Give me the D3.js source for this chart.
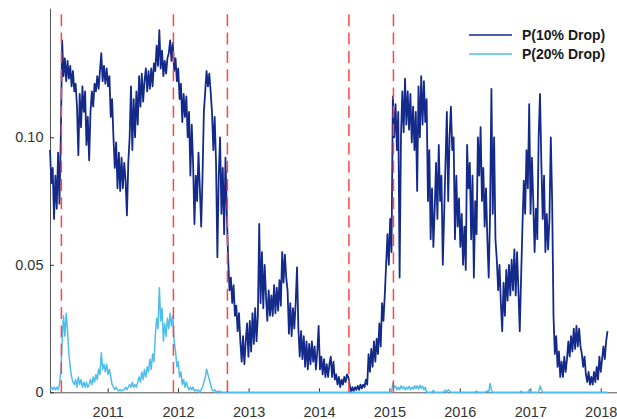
<!DOCTYPE html>
<html>
<head>
<meta charset="utf-8">
<script src="https://cdn.jsdelivr.net/npm/d3@7"></script>
<style>
  html, body { margin: 0; padding: 0; background: #fff; }
  svg { display: block; font-family: "Liberation Sans", Arial, Helvetica, sans-serif; }
</style>
</head>
<body>
<svg id="chart" width="617" height="419"></svg>
<script>
// Weekly observations, first Monday of the sample
const seriesStart = new Date(2010, 2, 8);

// Probability of a 10% drop (weekly)
const p10 = [
  0.095, 0.082, 0.088, 0.068, 0.085, 0.072, 0.094, 0.074, 0.1, 0.138,
  0.124, 0.131, 0.122, 0.13, 0.123, 0.128, 0.12, 0.126, 0.118, 0.121,
  0.112, 0.093, 0.117, 0.104, 0.12, 0.11, 0.118, 0.097, 0.108, 0.091,
  0.11, 0.118, 0.112, 0.121, 0.118, 0.124, 0.119, 0.126, 0.133, 0.122,
  0.128, 0.121, 0.127, 0.12, 0.124, 0.108, 0.115, 0.1, 0.088, 0.098,
  0.08, 0.094, 0.079, 0.092, 0.08, 0.09, 0.083, 0.0694, 0.09, 0.1,
  0.12, 0.095, 0.115, 0.1, 0.118, 0.105, 0.124, 0.112, 0.125, 0.114,
  0.122, 0.127, 0.118, 0.126, 0.119, 0.127, 0.12, 0.129, 0.126, 0.136,
  0.128, 0.142, 0.127, 0.134, 0.124, 0.13, 0.125, 0.131, 0.133, 0.138,
  0.13, 0.137, 0.126, 0.131, 0.122, 0.127, 0.115, 0.121, 0.106, 0.117,
  0.108, 0.116, 0.1, 0.11, 0.085, 0.105, 0.09, 0.066, 0.085, 0.075,
  0.094, 0.08, 0.065, 0.085, 0.11, 0.118, 0.126, 0.12, 0.125, 0.118,
  0.11, 0.095, 0.108, 0.09, 0.053, 0.085, 0.1, 0.07, 0.088, 0.062,
  0.092, 0.07, 0.052, 0.04, 0.045, 0.035, 0.042, 0.03, 0.034, 0.024,
  0.031, 0.02, 0.012, 0.022, 0.011, 0.02, 0.027, 0.014, 0.028, 0.016,
  0.031, 0.019, 0.033, 0.02, 0.03, 0.066, 0.035, 0.055, 0.033, 0.05,
  0.038, 0.028, 0.04, 0.03, 0.038, 0.03, 0.042, 0.031, 0.041, 0.032,
  0.044, 0.034, 0.055, 0.043, 0.054, 0.045, 0.04, 0.023, 0.035, 0.022,
  0.033, 0.025, 0.035, 0.049, 0.025, 0.014, 0.024, 0.013, 0.022, 0.01,
  0.02, 0.009, 0.019, 0.011, 0.02, 0.012, 0.018, 0.009, 0.016, 0.026,
  0.009, 0.014, 0.007, 0.013, 0.006, 0.011, 0.006, 0.011, 0.014, 0.006,
  0.012, 0.005, 0.007, 0.003, 0.006, 0.002, 0.005, 0.003, 0.006, 0.004,
  0.007, 0.006, 0.003, 0.0, 0.002, 0.0005, 0.002, 0.001, 0.0025, 0.001,
  0.003, 0.0015, 0.003, 0.002, 0.005, 0.003, 0.015, 0.008, 0.017, 0.01,
  0.02, 0.012, 0.021, 0.015, 0.027, 0.018, 0.035, 0.028, 0.038, 0.05,
  0.062, 0.05, 0.068, 0.055, 0.116, 0.1, 0.113, 0.095, 0.11, 0.045,
  0.1, 0.118, 0.102, 0.123, 0.105, 0.118, 0.103, 0.117, 0.098, 0.112,
  0.095, 0.11, 0.079, 0.12, 0.1, 0.124, 0.105, 0.122, 0.106, 0.115,
  0.075, 0.095, 0.06, 0.08, 0.057, 0.072, 0.09, 0.068, 0.097, 0.075,
  0.085, 0.05, 0.07, 0.09, 0.11, 0.075, 0.1, 0.112, 0.095, 0.1,
  0.06, 0.085, 0.065, 0.076, 0.057, 0.07, 0.05, 0.065, 0.048, 0.097,
  0.08, 0.09, 0.06, 0.085, 0.045, 0.075, 0.062, 0.1, 0.085, 0.104,
  0.075, 0.088, 0.065, 0.08, 0.06, 0.045, 0.07, 0.119, 0.07, 0.1,
  0.06, 0.052, 0.04, 0.05, 0.035, 0.024, 0.043, 0.03, 0.048, 0.036,
  0.05, 0.038, 0.052, 0.04, 0.056, 0.038, 0.055, 0.04, 0.024, 0.045,
  0.065, 0.083, 0.07, 0.095, 0.08, 0.113, 0.07, 0.092, 0.075, 0.055,
  0.072, 0.06, 0.1, 0.117, 0.09, 0.068, 0.085, 0.055, 0.07, 0.056,
  0.068, 0.1, 0.075, 0.03, 0.015, 0.022, 0.01, 0.016, 0.006, 0.012,
  0.006, 0.014, 0.008, 0.013, 0.02, 0.014, 0.022, 0.016, 0.025, 0.017,
  0.026, 0.018, 0.025, 0.018, 0.015, 0.01, 0.014, 0.007, 0.004, 0.008,
  0.003, 0.006, 0.003, 0.008, 0.004, 0.01, 0.005, 0.014, 0.008, 0.013,
  0.018, 0.013, 0.02, 0.024
];

// Probability of a 20% drop (weekly)
const p20 = [
  0.001, 0.002, 0.001, 0.002, 0.001, 0.002, 0.001, 0.003, 0.008, 0.02,
  0.03, 0.022, 0.031, 0.024, 0.015, 0.01, 0.006, 0.004, 0.003, 0.005,
  0.002, 0.006, 0.003, 0.005, 0.002, 0.004, 0.002, 0.004, 0.002, 0.003,
  0.005, 0.003, 0.006, 0.004, 0.007, 0.005, 0.009, 0.007, 0.0155, 0.009,
  0.011, 0.008, 0.011, 0.007, 0.009, 0.006, 0.003, 0.002, 0.001, 0.002,
  0.001, 0.0005, 0.001, 0.0005, 0.001, 0.001, 0.002, 0.001, 0.002, 0.003,
  0.002, 0.004, 0.002, 0.003, 0.002, 0.004, 0.006, 0.004, 0.008, 0.005,
  0.009, 0.006, 0.01, 0.008, 0.013, 0.009, 0.015, 0.012, 0.022, 0.029,
  0.025, 0.041, 0.028, 0.033, 0.02, 0.027, 0.022, 0.029, 0.025, 0.031,
  0.026, 0.03, 0.02, 0.016, 0.01, 0.012, 0.006, 0.008, 0.003, 0.005,
  0.002, 0.004, 0.002, 0.001, 0.002, 0.001, 0.002, 0.0005, 0.001, 0.0005,
  0.001, 0, 0.001, 0.002, 0.004, 0.006, 0.009, 0.007, 0.005, 0.003,
  0.001, 0.0005, 0.001, 0, 0.0005, 0, 0.0005, 0, 0, 0,
  0, 0, 0, 0, 0, 0, 0, 0, 0, 0,
  0, 0, 0, 0, 0, 0, 0, 0, 0, 0,
  0, 0, 0, 0, 0, 0, 0, 0, 0, 0,
  0, 0, 0, 0, 0, 0, 0, 0, 0, 0,
  0, 0, 0, 0, 0, 0, 0, 0, 0, 0,
  0, 0, 0, 0, 0, 0, 0, 0, 0, 0,
  0, 0, 0, 0, 0, 0, 0, 0, 0, 0,
  0, 0, 0, 0, 0, 0, 0, 0, 0, 0,
  0, 0, 0, 0, 0, 0, 0, 0, 0, 0,
  0, 0, 0, 0, 0, 0, 0, 0, 0, 0,
  0, 0, 0, 0, 0, 0, 0, 0, 0, 0,
  0, 0, 0, 0, 0, 0, 0, 0, 0, 0,
  0, 0, 0, 0, 0.0036, 0.002, 0.0025, 0.001, 0.002, 0.001,
  0.0025, 0.0015, 0.0022, 0.001, 0.002, 0.0012, 0.0024, 0.001, 0.002, 0.0012,
  0.0026, 0.0015, 0.0025, 0.0012, 0.0028, 0.0015, 0.0025, 0.001, 0.002, 0,
  0, 0, 0, 0, 0.0008, 0, 0, 0, 0, 0,
  0, 0, 0.0005, 0.0008, 0, 0.001, 0.0005, 0, 0, 0,
  0, 0, 0, 0, 0, 0, 0, 0, 0, 0,
  0, 0, 0, 0, 0, 0, 0.0005, 0, 0, 0,
  0, 0, 0, 0.0003, 0.0005, 0, 0.0035, 0.001, 0, 0,
  0, 0, 0, 0, 0, 0, 0, 0, 0, 0,
  0, 0, 0, 0, 0, 0, 0, 0, 0, 0.0005,
  0, 0, 0, 0, 0, 0.001, 0, 0, 0, 0,
  0, 0, 0, 0.0025, 0.001, 0, 0, 0, 0, 0,
  0, 0, 0, 0, 0, 0, 0, 0, 0, 0,
  0, 0, 0, 0, 0, 0, 0, 0, 0, 0,
  0, 0, 0, 0, 0, 0, 0, 0, 0, 0,
  0, 0, 0, 0, 0, 0, 0, 0, 0, 0,
  0, 0, 0, 0
];

const seriesNames = ["P(10% Drop)", "P(20% Drop)"];
const seriesColors = ["#132a8a", "#4dbeee"];

// Policy / market event dates marked with dashed verticals
const eventDates = ["2010-05-06", "2011-12-08", "2012-09-13", "2014-06-05", "2015-01-22"];

const yTicks = [0, 0.05, 0.10];
const yTickLabels = ["0", "0.05", "0.10"];
const xTickYears = [2011, 2012, 2013, 2014, 2015, 2016, 2017, 2018];

if (p10.length !== p20.length) throw new Error("series length mismatch " + p10.length + " " + p20.length);

const dates = p10.map((_, i) => d3.timeDay.offset(seriesStart, 7 * i));
const parseDay = d3.timeParse("%Y-%m-%d");

const svg = d3.select("#chart");

const x = d3.scaleTime()
  .domain([new Date(2010, 2, 8), new Date(2018, 3, 1)])
  .range([50, 618.1]);
const y = d3.scaleLinear()
  .domain([0, 0.1506])
  .range([392.3, 8.3]);

const axisColor = "#555";
const textColor = "#333";

// Axes (MATLAB-like: inward ticks, no box)
const xAxis = svg.append("g")
  .attr("transform", `translate(0,${y(0)})`)
  .call(d3.axisBottom(x)
    .tickValues(xTickYears.map(yr => new Date(yr, 0, 1)))
    .tickFormat(d3.timeFormat("%Y"))
    .tickSizeInner(-4)
    .tickSizeOuter(0)
    .tickPadding(14));
const yAxis = svg.append("g")
  .attr("transform", `translate(${x.range()[0]},0)`)
  .call(d3.axisLeft(y)
    .tickValues(yTicks)
    .tickFormat((d, i) => yTickLabels[i])
    .tickSizeInner(-4)
    .tickSizeOuter(0)
    .tickPadding(6.5));

[xAxis, yAxis].forEach(g => {
  g.select(".domain").attr("stroke", axisColor).attr("stroke-width", 1);
  g.selectAll(".tick line").attr("stroke", "#333").attr("stroke-width", 1);
  g.selectAll(".tick text")
    .attr("fill", textColor)
    .style("font-size", "14.5px")
    .style("font-family", "'Liberation Sans', Arial, sans-serif");
});

// Series lines
const line = d3.line()
  .x((d, i) => x(dates[i]))
  .y(d => y(d));

svg.append("path")
  .datum(p10)
  .attr("fill", "none")
  .attr("stroke", seriesColors[0])
  .attr("stroke-width", 1.8)
  .attr("stroke-linejoin", "round")
  .attr("d", line);

svg.append("path")
  .datum(p20)
  .attr("fill", "none")
  .attr("stroke", seriesColors[1])
  .attr("stroke-width", 1.5)
  .attr("stroke-linejoin", "round")
  .attr("d", line);

// Event markers
svg.append("g")
  .selectAll("line")
  .data(eventDates.map(parseDay))
  .join("line")
  .attr("x1", d => x(d))
  .attr("x2", d => x(d))
  .attr("y1", y(0))
  .attr("y2", y.range()[1])
  .attr("stroke", "#ff4545")
  .attr("stroke-width", 1.5)
  .attr("stroke-dasharray", "12,6.3");

// Legend
const legend = svg.append("g").attr("transform", "translate(469,35)");
seriesNames.forEach((name, i) => {
  const row = legend.append("g").attr("transform", `translate(0,${i * 19})`);
  row.append("line")
    .attr("x1", 0).attr("x2", 43)
    .attr("y1", 0).attr("y2", 0)
    .attr("stroke", seriesColors[i])
    .attr("stroke-width", 1.3);
  row.append("text")
    .attr("x", 53)
    .attr("y", 0)
    .attr("dy", "0.36em")
    .attr("fill", "#1a1a1a")
    .style("font-size", "14px")
    .style("font-weight", "bold")
    .text(name);
});
</script>
</body>
</html>
